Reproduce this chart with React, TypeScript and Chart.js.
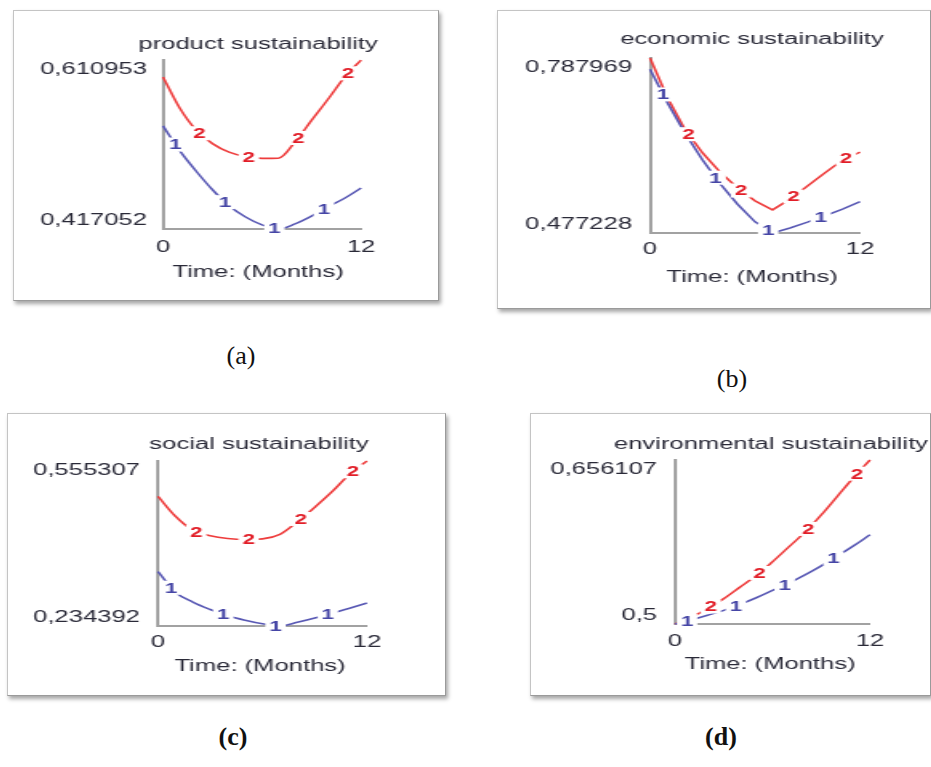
import React, { useEffect, useRef } from 'react';
import { Chart, registerables } from 'chart.js';

Chart.register(...registerables);

// ---------------- data ----------------
const months = [0, 1, 2, 3, 4, 5, 6, 7, 8, 9, 10, 11, 12];
const xTickValues = [0, 12];
const xAxisLabel = 'Time: (Months)';
const runLabels = ['1', '2'];
const run1MarkerTimes = [0.75, 3.75, 6.75, 9.75];
const run2MarkerTimes = [2.2, 5.2, 8.2, 11.2];

const productTitle = 'product sustainability';
const productYTicks = [0.417052, 0.610953];
const productRun1 = [0.5354, 0.5072, 0.4836, 0.4621, 0.4437, 0.4308, 0.4218, 0.4171, 0.4229, 0.4319, 0.4425, 0.4523, 0.4641];
const productRun2 = [0.5914, 0.5561, 0.5307, 0.515, 0.5052, 0.5001, 0.4981, 0.4983, 0.5169, 0.5416, 0.5659, 0.5914, 0.6109];

const economicTitle = 'economic sustainability';
const economicYTicks = [0.477228, 0.787969];
const economicRun1 = [0.768, 0.7083, 0.6546, 0.607, 0.5649, 0.5283, 0.4971, 0.4773, 0.4861, 0.4966, 0.5078, 0.5196, 0.5331];
const economicRun2 = [0.7879, 0.7174, 0.6609, 0.6197, 0.5855, 0.5573, 0.5343, 0.5184, 0.5373, 0.5608, 0.5843, 0.6067, 0.6208];

const socialTitle = 'social sustainability';
const socialYTicks = [0.234392, 0.555307];
const socialRun1 = [0.3403, 0.3002, 0.2809, 0.2665, 0.2543, 0.2456, 0.2386, 0.2344, 0.2415, 0.2498, 0.2594, 0.2691, 0.2793];
const socialRun2 = [0.4863, 0.4478, 0.4205, 0.4099, 0.4045, 0.4026, 0.4038, 0.4125, 0.4372, 0.4655, 0.4959, 0.5296, 0.5553];

const environmentalTitle = 'environmental sustainability';
const environmentalYTicks = [0.5, 0.656107];
const environmentalRun1 = [0.5, 0.5039, 0.5083, 0.513, 0.5187, 0.525, 0.532, 0.539, 0.5468, 0.5554, 0.5648, 0.5746, 0.5849];
const environmentalRun2 = [0.5, 0.5062, 0.5148, 0.5242, 0.5351, 0.5461, 0.5593, 0.5734, 0.5874, 0.6038, 0.6218, 0.6397, 0.6561];

// ---------------- styling / layout ----------------
const STRETCH = 1.6;
const BLUE = '#5858b4';
const RED = '#ee3c3c';
const BLUE_TEXT = '#4646a6';
const RED_TEXT = '#e21e28';
const AXIS = '#a2a2a2';
const TEXT = '#2a2a38';
const FONT = '"Liberation Sans", Arial, sans-serif';

type Spec = {
  title: string;
  yTicks: number[];
  run1: number[];
  run2: number[];
  smooth: boolean;
  box: number[]; // L T R B (page px)
  plot: number[]; // L T R B (page px)
  titlePos: number[];
  labelRight: number;
  xTickY: number;
  axisTitlePos: number[];
};

const specs: Spec[] = [
  {
    title: productTitle, yTicks: productYTicks, run1: productRun1, run2: productRun2, smooth: true,
    box: [13, 10, 439, 301], plot: [163, 60, 361, 229], titlePos: [258, 45], labelRight: 147, xTickY: 248, axisTitlePos: [258, 273],
  },
  {
    title: economicTitle, yTicks: economicYTicks, run1: economicRun1, run2: economicRun2, smooth: false,
    box: [497, 10, 931, 309], plot: [650, 58, 860, 233], titlePos: [752, 40], labelRight: 632, xTickY: 250, axisTitlePos: [752, 278],
  },
  {
    title: socialTitle, yTicks: socialYTicks, run1: socialRun1, run2: socialRun2, smooth: true,
    box: [7, 413, 446, 696], plot: [158, 461, 367, 626], titlePos: [259, 445], labelRight: 140, xTickY: 643, axisTitlePos: [260, 667],
  },
  {
    title: environmentalTitle, yTicks: environmentalYTicks, run1: environmentalRun1, run2: environmentalRun2, smooth: true,
    box: [530, 413, 931, 696], plot: [675, 460, 870, 624], titlePos: [771, 445], labelRight: 657, xTickY: 642, axisTitlePos: [770, 665],
  },
];

const captions = [
  { text: '(a)', x: 241, y: 356, bold: false },
  { text: '(b)', x: 732, y: 379, bold: false },
  { text: '(c)', x: 233, y: 737, bold: true },
  { text: '(d)', x: 721, y: 737, bold: true },
];

function fmt(v: number) {
  return String(v).replace('.', ',');
}

function Panel({ spec }: { spec: Spec }) {
  const ref = useRef<HTMLCanvasElement>(null);
  const [L, T, R, B] = spec.box;
  const boxW = R - L;
  const boxH = B - T;
  const intW = Math.round(boxW / STRETCH);
  const k = boxW / intW;

  useEffect(() => {
    const canvas = ref.current;
    if (!canvas) return;
    const [pl, pt, pr, pb] = spec.plot;
    const px = (x: number) => (x - L) / k;
    const py = (y: number) => y - T;

    const pointAt = (pts: any[], t: number) => {
      const i = Math.min(Math.floor(t), pts.length - 2);
      const u = t - i;
      const p0 = pts[i];
      const p1 = pts[i + 1];
      if (p0.cp2x !== undefined && p1.cp1x !== undefined) {
        const a = (1 - u) * (1 - u) * (1 - u);
        const b = 3 * (1 - u) * (1 - u) * u;
        const c = 3 * (1 - u) * u * u;
        const d = u * u * u;
        return {
          x: a * p0.x + b * p0.cp2x + c * p1.cp1x + d * p1.x,
          y: a * p0.y + b * p0.cp2y + c * p1.cp1y + d * p1.y,
        };
      }
      return { x: p0.x + (p1.x - p0.x) * u, y: p0.y + (p1.y - p0.y) * u };
    };

    const overlay = {
      id: 'vensimOverlay',
      afterDatasetsDraw(chart: any) {
        const ctx = chart.ctx;
        ctx.save();
        ctx.font = `bold 14px ${FONT}`;
        ctx.textAlign = 'center';
        ctx.textBaseline = 'middle';
        const groups: [number, number[], string, string][] = [
          [0, run1MarkerTimes, runLabels[0], BLUE_TEXT],
          [1, run2MarkerTimes, runLabels[1], RED_TEXT],
        ];
        groups.forEach(([di, times, label, color]) => {
          const pts = chart.getDatasetMeta(di).data;
          times.forEach((t) => {
            const p = pointAt(pts, t);
            const w = ctx.measureText(label).width + 5;
            const h = 14;
            ctx.fillStyle = '#ffffff';
            ctx.fillRect(p.x - w / 2, p.y - h / 2, w, h);
            ctx.fillStyle = color;
            ctx.fillText(label, p.x, p.y + 1);
          });
        });
        ctx.restore();
      },
      afterDraw(chart: any) {
        const ctx = chart.ctx;
        const xs = chart.scales.x;
        const ys = chart.scales.y;
        ctx.save();
        ctx.fillStyle = TEXT;
        ctx.font = `16px ${FONT}`;
        ctx.textBaseline = 'middle';
        // title
        ctx.textAlign = 'center';
        ctx.fillText(spec.title, px(spec.titlePos[0]), py(spec.titlePos[1]));
        // y tick labels (min and max)
        ctx.textAlign = 'right';
        const [yMin, yMax] = spec.yTicks;
        ctx.fillText(fmt(yMax), px(spec.labelRight), ys.getPixelForValue(yMax) + 10);
        ctx.fillText(fmt(yMin), px(spec.labelRight), ys.getPixelForValue(yMin) - 8);
        // x tick labels
        ctx.textAlign = 'center';
        xTickValues.forEach((v) => {
          ctx.fillText(String(v), xs.getPixelForValue(v), py(spec.xTickY));
        });
        // x axis title
        ctx.fillText(xAxisLabel, px(spec.axisTitlePos[0]), py(spec.axisTitlePos[1]));
        ctx.restore();
      },
    };

    const lineOpts = spec.smooth
      ? { cubicInterpolationMode: 'monotone' as const, tension: 0.4 }
      : { tension: 0 };

    const chart = new Chart(canvas, {
      type: 'line',
      data: {
        datasets: [
          {
            label: runLabels[0],
            data: months.map((m, i) => ({ x: m, y: spec.run1[i] })),
            borderColor: BLUE,
            borderWidth: 1.6,
            pointRadius: 0,
            fill: false,
            clip: 8,
            ...lineOpts,
          },
          {
            label: runLabels[1],
            data: months.map((m, i) => ({ x: m, y: spec.run2[i] })),
            borderColor: RED,
            borderWidth: 1.6,
            pointRadius: 0,
            fill: false,
            clip: 8,
            ...lineOpts,
          },
        ],
      },
      options: {
        responsive: false,
        animation: false,
        events: [],
        layout: {
          autoPadding: false,
          padding: {
            left: px(pl),
            right: intW - px(pr),
            top: py(pt),
            bottom: boxH - py(pb),
          },
        },
        plugins: {
          legend: { display: false },
          tooltip: { enabled: false },
          title: { display: false },
        },
        scales: {
          x: {
            type: 'linear',
            min: months[0],
            max: months[months.length - 1],
            grid: { display: false, drawTicks: false },
            ticks: { display: false },
            border: { display: true, color: AXIS, width: 2 },
          },
          y: {
            type: 'linear',
            min: spec.yTicks[0],
            max: spec.yTicks[1],
            grid: { display: false, drawTicks: false },
            ticks: { display: false },
            border: { display: true, color: AXIS, width: 2 },
          },
        },
      } as any,
      plugins: [overlay],
    });
    return () => chart.destroy();
  }, []);

  return (
    <>
      <div
        style={{
          position: 'absolute',
          left: L,
          top: T,
          width: boxW,
          height: boxH,
          boxSizing: 'border-box',
          border: '1px solid #c4c4c4',
          borderRightColor: '#9a9a9a',
          borderBottomColor: '#9a9a9a',
          background: '#ffffff',
          boxShadow: '2px 3px 4px rgba(0,0,0,0.35)',
        }}
      />
      <canvas
        ref={ref}
        width={intW}
        height={boxH}
        style={{ position: 'absolute', left: L, top: T, width: boxW, height: boxH }}
      />
    </>
  );
}

export default function App() {
  return (
    <div
      style={{
        position: 'absolute',
        left: 0,
        top: 0,
        width: 931,
        height: 767,
        background: '#ffffff',
        overflow: 'hidden',
      }}
    >
      {specs.map((s, i) => (
        <Panel key={i} spec={s} />
      ))}
      {captions.map((c, i) => (
        <div
          key={'c' + i}
          style={{
            position: 'absolute',
            left: c.x,
            top: c.y,
            transform: 'translate(-50%, -50%)',
            fontFamily: '"Liberation Serif", "Times New Roman", serif',
            fontSize: 26,
            fontWeight: c.bold ? 'bold' : 'normal',
            lineHeight: 1,
            color: '#111',
            whiteSpace: 'nowrap',
          }}
        >
          {c.text}
        </div>
      ))}
    </div>
  );
}
